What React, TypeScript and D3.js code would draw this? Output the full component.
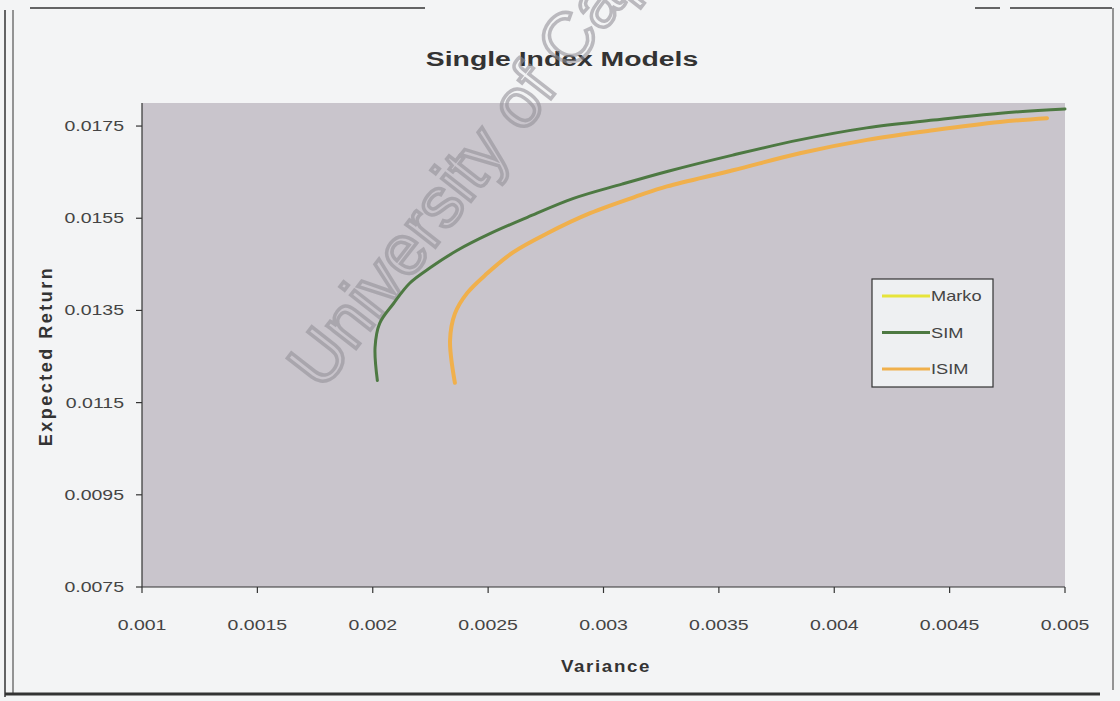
import React from 'react';
import * as d3 from 'd3';

// chart values
const xTicks = [0.001, 0.0015, 0.002, 0.0025, 0.003, 0.0035, 0.004, 0.0045, 0.005];
const xTickLabels = ['0.001', '0.0015', '0.002', '0.0025', '0.003', '0.0035', '0.004', '0.0045', '0.005'];
const yTicks = [0.0075, 0.0095, 0.0115, 0.0135, 0.0155, 0.0175];
const yTickLabels = ['0.0075', '0.0095', '0.0115', '0.0135', '0.0155', '0.0175'];

const simVariance = [0.00202, 0.00201, 0.00203, 0.00209, 0.00216, 0.00225, 0.002365, 0.00251, 0.00267, 0.00287,
  0.00308, 0.00328, 0.00356, 0.00385, 0.00414, 0.00443, 0.00472, 0.005];
const simReturn = [0.01198, 0.0127, 0.01322, 0.01365, 0.01409, 0.01443, 0.0148, 0.01517, 0.01552, 0.01593,
  0.01624, 0.01652, 0.01687, 0.0172, 0.01746, 0.01763, 0.01778, 0.01787];

const isimVariance = [0.002356, 0.002335, 0.002356, 0.002408, 0.002495, 0.002608, 0.002755, 0.002942, 0.003158,
  0.003275, 0.003561, 0.003851, 0.004142, 0.004428, 0.004718, 0.004922];
const isimReturn = [0.01193, 0.01285, 0.01343, 0.01387, 0.0143, 0.01476, 0.01517, 0.01561, 0.016,
  0.01619, 0.01654, 0.01691, 0.0172, 0.01741, 0.01759, 0.01767];

const seriesNames = ['Marko', 'SIM', 'ISIM'];
const seriesColors = ['#e6e43a', '#4d7942', '#f0b04c'];

export default function App() {
  const width = 1120;
  const height = 701;
  const margin = { left: 142, right: 1065, top: 103, bottom: 587 };

  const x = d3.scaleLinear().domain([0.001, 0.005]).range([margin.left, margin.right]);
  const y = d3.scaleLinear().domain([0.0075, 0.018]).range([margin.bottom, margin.top]);

  const line = d3.line<[number, number]>()
    .x((d) => x(d[0]))
    .y((d) => y(d[1]))
    .curve(d3.curveCatmullRom.alpha(0.5));

  const simPts = simVariance.map((v, i) => [v, simReturn[i]] as [number, number]);
  const isimPts = isimVariance.map((v, i) => [v, isimReturn[i]] as [number, number]);

  const font = 'Arial, "Liberation Sans", sans-serif';
  const legendX = 872;
  const legendY = 279;
  const stretch = 1.3;

  return (
    <svg width={width} height={height} style={{ position: 'absolute', left: 0, top: 0, background: '#f3f4f5' }}>
      <rect x={0} y={0} width={width} height={height} fill="#f3f4f5" />

      {/* scanned frame lines */}
      <g stroke="#333" strokeWidth={1.5} fill="none">
        <line x1={30} y1={8} x2={425} y2={8} />
        <line x1={975} y1={8} x2={1000} y2={8} />
        <line x1={1010} y1={8} x2={1112} y2={8} />
        <line x1={5} y1={10} x2={5} y2={697} />
        <line x1={13} y1={10} x2={13} y2={694} strokeWidth={1} />
        <line x1={1113} y1={8} x2={1113} y2={690} strokeWidth={1} />
        <line x1={5} y1={694} x2={1100} y2={694} strokeWidth={3} />
      </g>

      <text
        transform={`translate(562,66) scale(1.35,1)`}
        textAnchor="middle"
        fontFamily={font}
        fontWeight="bold"
        fontSize={21}
        fill="#333"
      >
        Single Index Models
      </text>

      {/* plot area */}
      <rect x={margin.left} y={margin.top} width={margin.right - margin.left} height={margin.bottom - margin.top} fill="#c9c5cc" />

      {/* watermark, cut at the top edge as in the scan */}
      <text
        x={0}
        y={0}
        transform="translate(322,392) rotate(-52)"
        fontFamily={font}
        fontSize={70}
        fill="none"
        stroke="#95929a"
        strokeWidth={3.5}
        opacity={0.6}
      >
        University of Cape Town
      </text>

      {/* series */}
      <path d={line(isimPts) || ''} fill="none" stroke={seriesColors[0]} strokeWidth={2} />
      <path d={line(isimPts) || ''} fill="none" stroke={seriesColors[2]} strokeWidth={4} strokeLinecap="round" />
      <path d={line(simPts) || ''} fill="none" stroke={seriesColors[1]} strokeWidth={3} strokeLinecap="round" />

      {/* axes */}
      <g stroke="#333" strokeWidth={1.2}>
        <line x1={margin.left} y1={margin.top} x2={margin.left} y2={margin.bottom} />
        <line x1={margin.left} y1={margin.bottom} x2={margin.right} y2={margin.bottom} />
        {yTicks.map((t) => (
          <line key={`yt${t}`} x1={margin.left - 6} y1={y(t)} x2={margin.left} y2={y(t)} />
        ))}
        {xTicks.map((t) => (
          <line key={`xt${t}`} x1={x(t)} y1={margin.bottom} x2={x(t)} y2={margin.bottom + 6} />
        ))}
      </g>
      {yTicks.map((t, i) => (
        <text
          key={`yl${t}`}
          transform={`translate(${margin.left - 18},${y(t) + 5}) scale(${stretch},1)`}
          textAnchor="end"
          fontFamily={font}
          fontSize={15}
          fill="#444"
        >
          {yTickLabels[i]}
        </text>
      ))}
      {xTicks.map((t, i) => (
        <text
          key={`xl${t}`}
          transform={`translate(${x(t)},630) scale(${stretch},1)`}
          textAnchor="middle"
          fontFamily={font}
          fontSize={15}
          fill="#444"
        >
          {xTickLabels[i]}
        </text>
      ))}

      <text
        transform="translate(606,672) scale(1.1,1)"
        textAnchor="middle"
        fontFamily={font}
        fontWeight="bold"
        fontSize={17}
        letterSpacing={1.5}
        fill="#333"
      >
        Variance
      </text>
      <text
        transform="translate(52,356) rotate(-90)"
        textAnchor="middle"
        fontFamily={font}
        fontWeight="bold"
        fontSize={18}
        letterSpacing={2.5}
        fill="#333"
      >
        Expected Return
      </text>

      {/* legend */}
      <rect x={legendX} y={legendY} width={121} height={108} fill="#eef0f2" stroke="#333" strokeWidth={1.2} />
      {seriesNames.map((name, i) => (
        <g key={name} transform={`translate(${legendX + 10},${legendY + 17 + i * 36.5})`}>
          <line x1={0} y1={0} x2={48} y2={0} stroke={seriesColors[i]} strokeWidth={3} />
          <text transform={`translate(49,5) scale(${stretch},1)`} fontFamily={font} fontSize={14} fill="#444">
            {name}
          </text>
        </g>
      ))}
    </svg>
  );
}
